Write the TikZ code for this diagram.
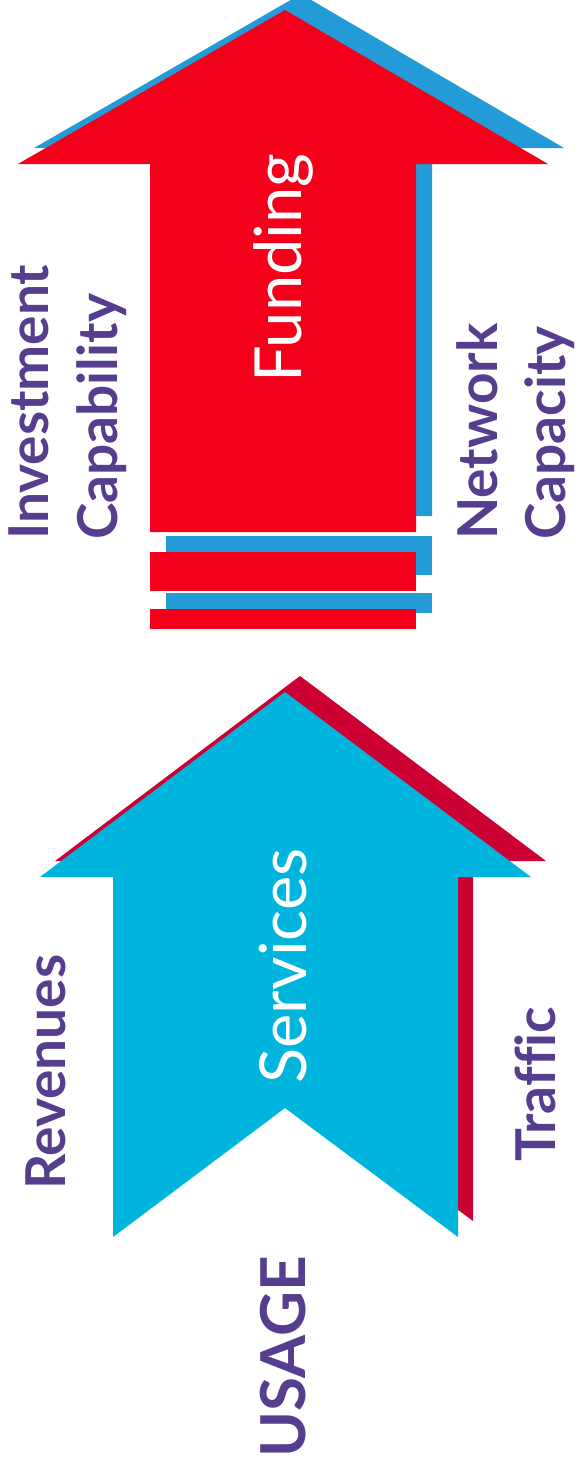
\documentclass[tikz,border=0pt]{standalone}
\usepackage{fontspec}
\setmainfont{Lato}[Ligatures=NoCommon]
\usepackage{xcolor}
\usetikzlibrary{positioning}
\definecolor{fundred}{HTML}{F5001A}
\definecolor{fundblue}{HTML}{239BD6}
\definecolor{servcyan}{HTML}{00B5DD}
\definecolor{servcrimson}{HTML}{CC0033}
\definecolor{labpurple}{HTML}{563D8E}
\newcommand{\fundarrow}{(285,10) -- (548,164) -- (416,164) -- (416,532) -- (150,532) -- (150,164) -- (18,164) -- cycle}
\newcommand{\servarrow}{(285,692) -- (531,877) -- (458,877) -- (458,1237) -- (285,1108) -- (113,1237) -- (113,877) -- (40,877) -- cycle}
\tikzset{
  sidelbl/.style={rotate=90, anchor=base west, inner sep=0pt, text=labpurple,
                  font=\bfseries\fontsize{55}{55}\selectfont},
  inlbl/.style={rotate=90, anchor=base, inner sep=0pt, text=white,
                font=\fontsize{65}{65}\selectfont}
}
\begin{document}
\begin{tikzpicture}[x=1pt, y=-1pt]
\useasboundingbox (0,0) rectangle (576,1473);
\clip (0,0) rectangle (576,1473);
% funding arrow and its bars
\fill[fundblue, shift={(16,-16)}] \fundarrow;
\fill[fundred] \fundarrow;
\fill[fundblue] (166,536) rectangle (432,575);
\fill[fundred] (150,552) rectangle (416,591);
\fill[fundblue] (166,593) rectangle (432,613);
\fill[fundred] (150,609) rectangle (416,629);
% services arrow
\fill[servcrimson, shift={(15,-16)}] \servarrow;
\fill[servcyan] \servarrow;
% labels
\node[inlbl] (fund) at (301,268) {Funding};
\node[inlbl] (serv) at (306,966) {Services};
\node[sidelbl] (invest) at (48,540) {Investment};
\node[sidelbl] (capab) at (117,540) {Capability};
\node[sidelbl] (network) at (497,540) {Network};
\node[sidelbl] (capac) at (565,540) {Capacity};
\node[sidelbl] (rev) at (65,1190) {Revenues};
\node[sidelbl] (traffic) at (555,1162) {Traffic};
\node[sidelbl, font=\bfseries\fontsize{62}{62}\selectfont] (usage) at (305,1458) {USAGE};
\end{tikzpicture}
\end{document}
